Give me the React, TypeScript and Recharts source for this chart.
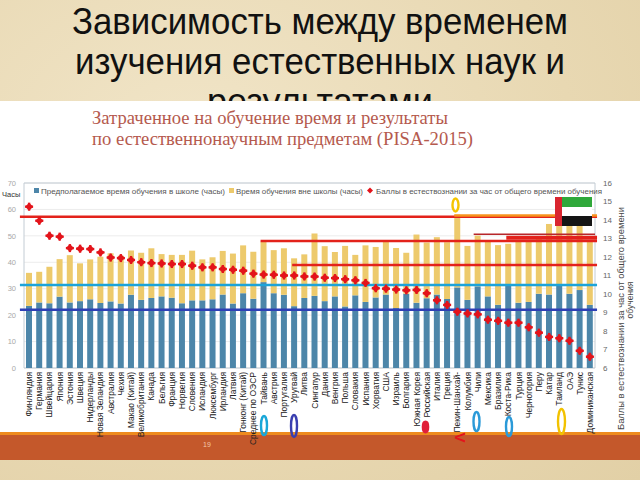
import React from 'react';
import {
  ComposedChart,
  Bar,
  Line,
  XAxis,
  YAxis,
  CartesianGrid,
  ReferenceLine,
  ReferenceArea,
} from 'recharts';

const countries = [
  'Финляндия', 'Германия', 'Швейцария', 'Япония', 'Эстония', 'Швеция', 'Нидерланды',
  'Новая Зеландия', 'Австралия', 'Чехия', 'Макао (Китай)', 'Великобритания', 'Канада',
  'Бельгия', 'Франция', 'Норвегия', 'Словения', 'Исландия', 'Люксембург', 'Ирландия',
  'Латвия', 'Гонконг (Китай)', 'Среднее по ОЭСР', 'Тайвань', 'Австрия', 'Португалия',
  'Уругвай', 'Литва', 'Сингапур', 'Дания', 'Венгрия', 'Польша', 'Словакия', 'Испания',
  'Хорватия', 'США', 'Израиль', 'Болгария', 'Южная Корея', 'Российская', 'Италия',
  'Греция', 'Пекин-Шанхай-', 'Колумбия', 'Чили', 'Мексика', 'Бразилия', 'Коста-Рика',
  'Турция', 'Черногория', 'Перу', 'Катар', 'Таиланд', 'ОАЭ', 'Тунис', 'Доминиканская',
];

// Предполагаемое время обучения в школе (часы)
const schoolHours = [
  23.5, 24.8, 24.5, 27.0, 24.8, 25.3, 26.0, 24.6, 25.2, 24.4, 27.7, 25.8, 26.5, 27.1,
  26.6, 24.5, 25.6, 25.6, 26.0, 27.8, 24.4, 28.3, 26.2, 32.5, 28.3, 27.7, 23.4, 26.5,
  27.3, 25.3, 27.1, 23.3, 27.5, 25.0, 26.7, 27.8, 22.7, 28.1, 24.7, 26.4, 27.8, 26.1,
  30.5, 25.8, 30.9, 27.1, 23.9, 31.3, 24.7, 25.0, 28.1, 27.8, 31.3, 28.1, 29.5, 23.9,
];

// Время обучения вне школы (часы)
const outsideHours = [
  12.5, 11.6, 13.8, 14.2, 17.9, 14.3, 15.1, 17.5, 18.2, 18.1, 16.8, 17.8, 18.8, 16.0,
  16.2, 18.3, 18.8, 15.5, 15.9, 16.5, 18.9, 18.1, 17.8, 15.3, 16.3, 17.6, 18.1, 16.5,
  23.6, 20.8, 16.8, 22.9, 15.3, 21.4, 19.1, 19.9, 22.7, 15.5, 25.8, 21.1, 21.7, 21.5,
  27.5, 20.4, 19.2, 20.7, 22.6, 15.7, 23.3, 23.2, 20.7, 26.7, 24.7, 28.9, 25.5, 24.5,
];

// Баллы в естествознании за час от общего времени обучения
const scorePerHour = [
  14.72, 13.96, 13.15, 13.1, 12.48, 12.45, 12.43, 12.25, 11.97, 11.94, 11.84, 11.72,
  11.67, 11.65, 11.62, 11.62, 11.53, 11.44, 11.44, 11.35, 11.31, 11.26, 11.1, 11.05,
  11.04, 11.0, 11.0, 10.95, 10.94, 10.88, 10.86, 10.8, 10.74, 10.6, 10.31, 10.29, 10.24,
  10.2, 10.22, 10.04, 9.66, 9.41, 9.04, 8.95, 8.9, 8.61, 8.55, 8.45, 8.45, 8.2, 7.91,
  7.68, 7.61, 7.47, 6.93, 6.61,
];

const leftTicks = [0, 10, 20, 30, 40, 50, 60, 70];
const rightTicks = [6, 7, 8, 9, 10, 11, 12, 13, 14, 15, 16];

const legendLabels = [
  'Предполагаемое время обучения в школе (часы)',
  'Время обучения вне школы (часы)',
  'Баллы в естествознании за час от общего времени обучения',
];

// hand-drawn highlight lines added on the slide (left-axis value, category index span)
const markerLines = [
  { y: 57.2, from: -0.9, to: 55.7, color: '#e3221b', width: 2.5 },
  { y: 57.7, from: 41.7, to: 55.7, color: '#f7931e', width: 2.5 },
  { y: 50.6, from: 43.6, to: 55.5, color: '#b8262a', width: 1.5 },
  { y: 49.3, from: 46.8, to: 55.7, color: '#e3221b', width: 4 },
  { y: 48.1, from: 22.7, to: 55.7, color: '#e3221b', width: 2.5 },
  { y: 39.0, from: 25.8, to: 55.7, color: '#e3221b', width: 2.5 },
  { y: 31.4, from: -0.9, to: 55.7, color: '#1ca3d9', width: 2.5 },
  { y: 22.0, from: -0.9, to: 55.7, color: '#2e40b5', width: 2.5 },
];

const data = countries.map((country, i) => ({
  country,
  idx: i,
  school: schoolHours[i],
  outside: outsideHours[i],
  score: scorePerHour[i],
}));

const BLUE = '#4d86a9';
const YELLOW = '#edca6c';
const RED = '#e3141b';

const CountryTick = (props: any) => {
  const { x, y, payload } = props;
  return (
    <text
      transform={`translate(${x},${y}) rotate(-90)`}
      textAnchor="end"
      dominantBaseline="central"
      fontSize={8.5}
      fontFamily="'Liberation Sans', Arial, sans-serif"
      fill="#222"
    >
      {payload.value}
    </text>
  );
};

const ScoreDot = (props: any) => {
  const { cx, cy, index } = props;
  if (cx == null || cy == null) return <g key={`d${index}`} />;
  return (
    <g key={`d${index}`}>
      <path
        d={`M${cx},${cy - 4} L${cx + 4},${cy} L${cx},${cy + 4} L${cx - 4},${cy} Z`}
        fill={RED}
      />
      <rect x={cx - 4} y={cy - 1.2} width={8} height={2.4} fill={RED} />
      <rect x={cx - 1.2} y={cy - 4} width={2.4} height={8} fill={RED} />
    </g>
  );
};

const Oval = ({ cx, cy, rx, ry, color, filled }: any) => (
  <ellipse
    cx={cx}
    cy={cy}
    rx={rx}
    ry={ry}
    fill={filled ? color : 'none'}
    stroke={color}
    strokeWidth={2.4}
  />
);

export default function App() {
  const sans = "'Liberation Sans', Arial, sans-serif";
  const serif = "'Liberation Serif', 'Times New Roman', serif";
  return (
    <div
      style={{
        position: 'absolute',
        left: 0,
        top: 0,
        width: 640,
        height: 480,
        overflow: 'hidden',
        background:
          'radial-gradient(ellipse at 30% 30%, #f1e5c8 0%, #e8d8b2 60%, #e2d0a6 100%)',
      }}
    >
      {/* slide title */}
      <svg width={640} height={120} style={{ position: 'absolute', left: 0, top: 0 }}>
        <text x={72} y={34} fontSize={36} fontFamily={sans} fill="#111" textLength={496} lengthAdjust="spacingAndGlyphs">
          Зависимость между временем
        </text>
        <text x={75} y={74} fontSize={36} fontFamily={sans} fill="#111" textLength={490} lengthAdjust="spacingAndGlyphs">
          изучения естественных наук и
        </text>
        <text x={320} y={114} fontSize={36} fontFamily={sans} fill="#111" textAnchor="middle">
          результатами
        </text>
      </svg>

      {/* white picture panel */}
      <div style={{ position: 'absolute', left: 0, top: 101, width: 640, height: 332, background: '#fff' }} />
      {/* bottom band */}
      <div style={{ position: 'absolute', left: 0, top: 432, width: 640, height: 3, background: '#ee8b1e' }} />
      <div style={{ position: 'absolute', left: 0, top: 435, width: 640, height: 25, background: '#c4582b' }} />

      <svg width={640} height={480} style={{ position: 'absolute', left: 0, top: 0 }}>
        <text x={92} y={124} fontSize={19} fontFamily={serif} fill="#b55a4e" textLength={356} lengthAdjust="spacingAndGlyphs">
          Затраченное на обучение время и результаты
        </text>
        <text x={92} y={145} fontSize={19} fontFamily={serif} fill="#b55a4e" textLength={381} lengthAdjust="spacingAndGlyphs">
          по естественнонаучным предметам (PISA-2015)
        </text>
        <text x={207} y={446.5} fontSize={7} fontFamily={sans} fill="#f3c9a8" textAnchor="middle">
          19
        </text>
      </svg>

      <div style={{ position: 'absolute', left: 0, top: 0 }}>
        <ComposedChart
          width={640}
          height={480}
          data={data}
          margin={{ top: 183, right: 0, bottom: 50, left: 0 }}
        >
          <CartesianGrid xAxisId="cat" yAxisId="left" vertical={false} stroke="#ececec" />
          <XAxis
            xAxisId="cat"
            dataKey="country"
            type="category"
            interval={0}
            height={62}
            tickSize={0}
            tickMargin={4}
            axisLine={false}
            tickLine={false}
            tick={<CountryTick />}
          />
          <XAxis xAxisId="idx" dataKey="idx" type="number" domain={[-0.5, 55.5]} hide allowDataOverflow />
          <YAxis
            yAxisId="left"
            width={24}
            domain={[0, 70]}
            ticks={leftTicks}
            axisLine={false}
            tickLine={false}
            tick={{ fontSize: 7.5, fill: '#a8a8a8', fontFamily: sans }}
          />
          <YAxis
            yAxisId="right"
            orientation="right"
            width={45}
            domain={[6, 16]}
            ticks={rightTicks}
            axisLine={false}
            tickLine={false}
            tick={{ fontSize: 8, fill: '#666', fontFamily: sans }}
          />
          <ReferenceArea
            xAxisId="cat"
            yAxisId="left"
            y1={0}
            y2={70}
            fill="none"
            stroke="#c3ccd4"
            strokeWidth={1}
            ifOverflow="visible"
          />
          <Bar xAxisId="cat" yAxisId="left" dataKey="school" stackId="h" fill={BLUE} barSize={6} isAnimationActive={false} />
          <Bar xAxisId="cat" yAxisId="left" dataKey="outside" stackId="h" fill={YELLOW} barSize={6} isAnimationActive={false} />
          {markerLines.map((m, i) => (
            <ReferenceLine
              key={`m${i}`}
              xAxisId="idx"
              yAxisId="left"
              ifOverflow="visible"
              segment={[
                { x: m.from, y: m.y },
                { x: m.to, y: m.y },
              ]}
              stroke={m.color}
              strokeWidth={m.width}
            />
          ))}
          <Line
            xAxisId="cat"
            yAxisId="right"
            dataKey="score"
            stroke="none"
            strokeWidth={0}
            dot={ScoreDot}
            activeDot={false}
            isAnimationActive={false}
          />
        </ComposedChart>
      </div>

      {/* overlays: legend, labels, slide annotations */}
      <svg width={640} height={480} style={{ position: 'absolute', left: 0, top: 0, pointerEvents: 'none' }}>
        <rect x={34} y={188} width={5} height={5} fill={BLUE} />
        <text x={41} y={193.5} fontSize={7.5} fontFamily={sans} fill="#555" textLength={184} lengthAdjust="spacingAndGlyphs">
          {legendLabels[0]}
        </text>
        <rect x={229} y={188} width={5} height={5} fill={YELLOW} />
        <text x={236} y={193.5} fontSize={7.5} fontFamily={sans} fill="#555" textLength={127} lengthAdjust="spacingAndGlyphs">
          {legendLabels[1]}
        </text>
        <path d="M370,187.5 L373,190.5 L370,193.5 L367,190.5 Z" fill={RED} />
        <text x={376} y={193.5} fontSize={7.5} fontFamily={sans} fill="#555" textLength={226} lengthAdjust="spacingAndGlyphs">
          {legendLabels[2]}
        </text>

        <text x={2} y={197} fontSize={7.5} fontFamily={sans} fill="#333">Часы</text>

        <text
          transform="translate(621,318.5) rotate(-90)"
          textAnchor="middle"
          dominantBaseline="central"
          fontSize={8.5}
          fontFamily={sans}
          fill="#444"
          textLength={223}
          lengthAdjust="spacingAndGlyphs"
        >
          Баллы в естествознании за час от общего времени
        </text>
        <text
          transform="translate(630,300) rotate(-90)"
          textAnchor="middle"
          dominantBaseline="central"
          fontSize={8.5}
          fontFamily={sans}
          fill="#444"
        >
          обучения
        </text>

        {/* UAE flag */}
        <rect x={562} y={197} width={30} height={10} fill="#2fa83a" />
        <rect x={562} y={207} width={30} height={9} fill="#ffffff" />
        <rect x={562} y={216} width={30} height={10} fill="#151515" />
        <rect x={555} y={197} width={7} height={29} fill="#d9252f" />

        <Oval cx={455.5} cy={205} rx={3} ry={6.5} color="#f5c400" />
        <Oval cx={264} cy={425.5} rx={3} ry={9.5} color="#1aa7d8" />
        <Oval cx={294} cy={426} rx={3} ry={11} color="#3a3fb0" />
        <Oval cx={425.5} cy={427} rx={2.6} ry={5.2} color="#e0203a" filled />
        <Oval cx={476.5} cy={421.5} rx={3} ry={9.5} color="#2b9ad8" />
        <Oval cx={509} cy={426.5} rx={3} ry={9.5} color="#2b9ad8" />
        <Oval cx={561.5} cy={421.5} rx={3.5} ry={12.5} color="#f2c200" />
        <text
          transform="translate(460,437.5) rotate(90)"
          textAnchor="middle"
          dominantBaseline="central"
          fontSize={15}
          fontWeight="bold"
          fontFamily={sans}
          fill="#e3141b"
        >
          V
        </text>
      </svg>
    </div>
  );
}
